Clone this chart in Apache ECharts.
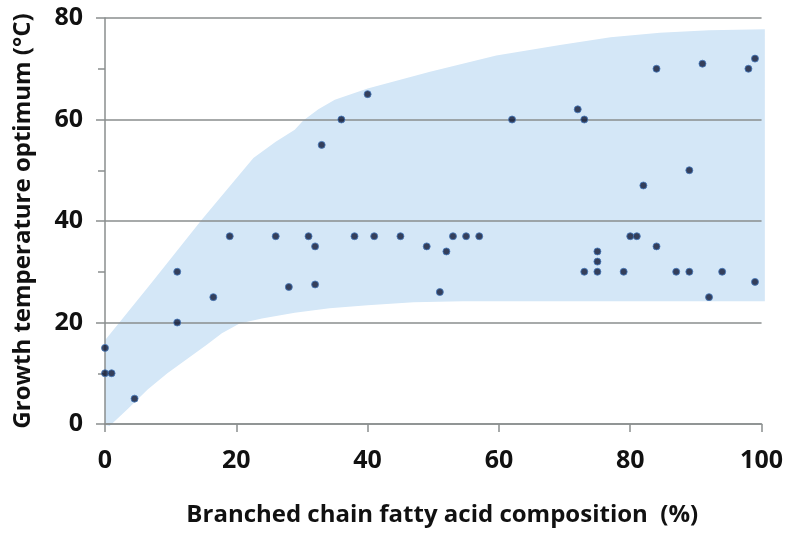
<!DOCTYPE html>
<html>
<head>
<meta charset="utf-8">
<script src="https://cdn.jsdelivr.net/npm/echarts@6/dist/echarts.min.js"></script>
<style>
  html, body { margin: 0; padding: 0; background: #fff; }
  #chart { width: 786px; height: 536px; }
</style>
</head>
<body>
<div id="chart"></div>
<script>
  // branched chain fatty acid composition (%) vs growth temperature optimum
  var bcfa = [0, 0, 1, 4.5, 11, 11, 16.5, 19, 26, 28, 31, 32, 32, 33, 36, 40, 38, 41, 45, 49, 52, 51, 53, 55,
    57, 62, 72, 73, 73, 75, 75, 75, 79, 80, 81, 82, 84, 84, 87, 89, 89, 91, 92, 94, 98, 99, 99]
  var temp = [15, 10, 10, 5, 20, 30, 25, 37, 37, 27, 37, 35, 27.5, 55, 60, 65, 37, 37, 37, 35, 34, 26, 37, 37,
    37, 60, 62, 60, 30, 34, 32, 30, 30, 37, 37, 47, 35, 70, 30, 30, 50, 71, 25, 30, 70, 72, 28]

  // shaded envelope, upper edge left->right, lower edge right->left
  var upperX = [0, 7, 14.7, 22.6, 26, 28.9, 30.2, 32.5, 35, 40, 49.5, 59.6, 69.3, 77, 84.5, 92, 100.5]
  var upperY = [16.5, 27.7, 40.2, 52.4, 55.6, 58, 59.8, 62, 63.9, 66.1, 69.4, 72.6, 74.7, 76.2, 77.1, 77.6, 77.8]
  var lowerX = [100.5, 70, 54.5, 47, 40, 34.2, 28.9, 23.9, 20.5, 17.8, 15.5, 12.5, 9.5, 6.5, 3.5, 0.7, 0]
  var lowerY = [24.2, 24.2, 24.2, 24, 23.4, 22.8, 21.9, 20.8, 19.8, 17.9, 15.6, 12.8, 10, 6.8, 3, -0.4, -0.2]

  var xTicks = [0, 20, 40, 60, 80, 100]
  var yTicks = [0, 20, 40, 60, 80]

  var textColor = '#111'
  var gridColor = '#8a8e8e'

  var scatterData = bcfa.map(function (x, i) { return [x, temp[i]] })
  var bandData = upperX.map(function (x, i) { return [x, upperY[i]] })
    .concat(lowerX.map(function (x, i) { return [x, lowerY[i]] }))

  var chart = echarts.init(document.getElementById('chart'))
  var option = {
    animation: false,
    grid: { left: 105, right: 24, top: 18, bottom: 112 },
    xAxis: {
      type: 'value',
      min: xTicks[0],
      max: xTicks[xTicks.length - 1],
      interval: 20,
      z: 3,
      name: 'Branched chain fatty acid composition  (%)',
      nameLocation: 'middle',
      nameGap: 79,
      nameTextStyle: {
        fontFamily: 'Open Sans', fontWeight: 'bold', fontSize: 24, color: textColor,
        padding: [0, 0, 0, 18]
      },
      axisLine: { show: true, lineStyle: { color: gridColor, width: 1.5 } },
      axisTick: { show: true, length: 8, lineStyle: { color: gridColor, width: 1.5 } },
      axisLabel: { margin: 24, fontFamily: 'Open Sans', fontWeight: 'bold', fontSize: 25, color: textColor },
      splitLine: { show: false }
    },
    yAxis: {
      type: 'value',
      min: yTicks[0],
      max: yTicks[yTicks.length - 1],
      interval: 20,
      z: 3,
      name: 'Growth temperature optimum (°C)',
      nameLocation: 'middle',
      nameGap: 70,
      nameTextStyle: { fontFamily: 'Open Sans', fontWeight: 'bold', fontSize: 24, color: textColor },
      axisLine: { show: true, lineStyle: { color: gridColor, width: 1.5 } },
      axisTick: { show: true, length: 9, lineStyle: { color: gridColor, width: 1.5 } },
      minorTick: { show: true, splitNumber: 2, length: 7, lineStyle: { color: gridColor, width: 1.5 } },
      axisLabel: { margin: 22, fontFamily: 'Open Sans', fontWeight: 'bold', fontSize: 25, color: textColor },
      splitLine: { show: true, lineStyle: { color: gridColor, width: 1.5 } }
    },
    series: [
      {
        // envelope drawn as one polygon through the axis scales
        type: 'custom',
        silent: true,
        z: 1,
        data: bandData,
        renderItem: function (params, api) {
          if (params.dataIndex !== 0) return null
          var pts = bandData.map(function (d) { return api.coord(d) })
          return {
            type: 'polygon',
            shape: { points: pts },
            style: { fill: '#d4e7f7', stroke: null }
          }
        }
      },
      {
        type: 'scatter',
        z: 5,
        symbol: 'circle',
        symbolSize: 7,
        data: scatterData,
        itemStyle: { color: '#0b1533', borderColor: '#4679bd', borderWidth: 1 }
      }
    ]
  }
  chart.setOption(option)
</script>
</body>
</html>
